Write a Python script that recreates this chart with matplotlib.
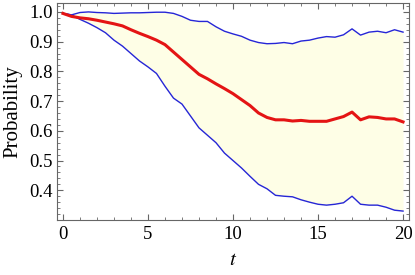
import matplotlib
matplotlib.use("Agg")
import matplotlib.pyplot as plt
from matplotlib.ticker import MultipleLocator

t = [i * 0.5 for i in range(41)]

upper = [0.995, 0.99, 0.998, 1.0, 0.998, 0.997, 0.995, 0.996, 0.997, 0.997,
         0.998, 0.999, 0.999, 0.995, 0.985, 0.972, 0.968, 0.968, 0.95, 0.935,
         0.926, 0.918, 0.905, 0.897, 0.893, 0.894, 0.897, 0.893, 0.902, 0.905,
         0.912, 0.917, 0.915, 0.923, 0.943, 0.922, 0.932, 0.935, 0.93, 0.94, 0.932]

mean = [0.995, 0.985, 0.98, 0.977, 0.972, 0.966, 0.96, 0.953, 0.94, 0.928,
        0.917, 0.905, 0.89, 0.865, 0.84, 0.815, 0.79, 0.775, 0.758, 0.742,
        0.725, 0.705, 0.685, 0.66, 0.645, 0.637, 0.637, 0.633, 0.635, 0.632,
        0.632, 0.632, 0.64, 0.648, 0.663, 0.637, 0.647, 0.645, 0.64, 0.64, 0.63]

lower = [0.995, 0.99, 0.975, 0.962, 0.947, 0.93, 0.905, 0.885, 0.86, 0.835,
         0.815, 0.793, 0.75, 0.71, 0.69, 0.65, 0.61, 0.585, 0.56, 0.525,
         0.5, 0.475, 0.447, 0.42, 0.405, 0.383, 0.38, 0.378, 0.368, 0.36,
         0.353, 0.35, 0.353, 0.358, 0.38, 0.353, 0.35, 0.35, 0.343, 0.333, 0.33]

yticks = [0.4, 0.5, 0.6, 0.7, 0.8, 0.9, 1.0]
ytick_labels = ['0.4', '0.5', '0.6', '0.7', '0.8', '0.9', '1.0']

plt.rcParams['font.family'] = ['Liberation Serif', 'DejaVu Serif']
plt.rcParams['mathtext.fontset'] = 'stix'

fig = plt.figure(figsize=(4.15, 2.75), dpi=100)
ax = fig.add_axes([57/415, 55/275, 352/415, 217/275])

ax.fill_between(t, lower, upper, color='#fefee6', lw=0)
ax.plot(t, upper, color='#2626d6', lw=1.0)
ax.plot(t, lower, color='#2626d6', lw=1.0)
ax.plot(t, mean, color='#e41414', lw=2.2)

ax.set_xlim(-0.35, 20.35)
ax.set_ylim(0.3, 1.03)
ax.xaxis.set_major_locator(MultipleLocator(5))
ax.xaxis.set_minor_locator(MultipleLocator(1))
ax.yaxis.set_minor_locator(MultipleLocator(0.02))
ax.set_yticks(yticks)
ax.set_yticklabels(ytick_labels)

for s in ax.spines.values():
    s.set_color('#666666')
    s.set_linewidth(0.8)
ax.tick_params(which='both', direction='in', top=True, right=True, color='#666666',
               labelsize=13.5)
ax.tick_params(which='major', length=4, width=0.8)
ax.tick_params(axis='y', which='major', pad=3)
ax.tick_params(axis='x', which='major', pad=4)
ax.tick_params(which='minor', length=2.3, width=0.6)

ax.set_xlabel('$t$', fontsize=15, labelpad=6)
ax.set_ylabel('Probability', fontsize=15, labelpad=5)

fig.savefig('out.png', dpi=100)
